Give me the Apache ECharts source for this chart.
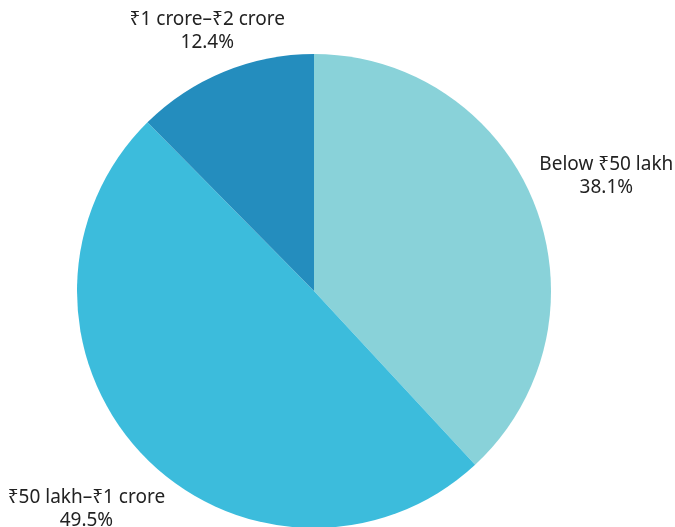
<!DOCTYPE html>
<html>
<head>
<meta charset="utf-8">
<script src="https://cdn.jsdelivr.net/npm/echarts@6/dist/echarts.min.js"></script>
<style>
  html, body { margin: 0; padding: 0; background: #ffffff; }
  #chart { width: 675px; height: 527px; }
</style>
</head>
<body>
<div id="chart"></div>
<script>
// Home price bands and their share of sales (%)
const categories = ['Below ₹50 lakh', '₹50 lakh–₹1 crore', '₹1 crore–₹2 crore'];
const shares = [38.1, 49.5, 12.4];
const colors = ['#89D2D9', '#3CBCDC', '#248DBE'];

const CENTER = [314, 291];
const RADIUS = 237;
// distance of each label's centre from the pie centre, along the slice's mid-angle
const labelDistance = [314, 315, 281];

// mid-angle of every slice, measured clockwise from 12 o'clock
const total = shares.reduce((a, b) => a + b, 0);
const midAngles = [];
let acc = 0;
shares.forEach(v => {
  midAngles.push((acc + v / 2) / total * 2 * Math.PI);
  acc += v;
});

const chart = echarts.init(document.getElementById('chart'), null, { renderer: 'canvas' });

chart.setOption({
  backgroundColor: '#ffffff',
  animation: false,
  series: [{
    type: 'pie',
    center: CENTER,
    radius: RADIUS,
    startAngle: 90,
    clockwise: true,
    data: categories.map((name, i) => ({
      name: name,
      value: shares[i],
      itemStyle: { color: colors[i] }
    })),
    label: {
      show: true,
      position: 'outside',
      alignTo: 'none',
      overflow: 'none',
      formatter: p => p.name + '\n' + p.value.toFixed(1) + '%',
      fontFamily: 'Noto Sans',
      fontSize: 19,
      lineHeight: 23,
      color: '#222222',
      align: 'center'
    },
    labelLine: { show: false },
    labelLayout: p => {
      const a = midAngles[p.dataIndex];
      const d = labelDistance[p.dataIndex];
      return {
        x: CENTER[0] + d * Math.sin(a),
        y: CENTER[1] - d * Math.cos(a),
        align: 'center',
        verticalAlign: 'middle'
      };
    },
    emphasis: { disabled: true }
  }]
});
</script>
</body>
</html>
